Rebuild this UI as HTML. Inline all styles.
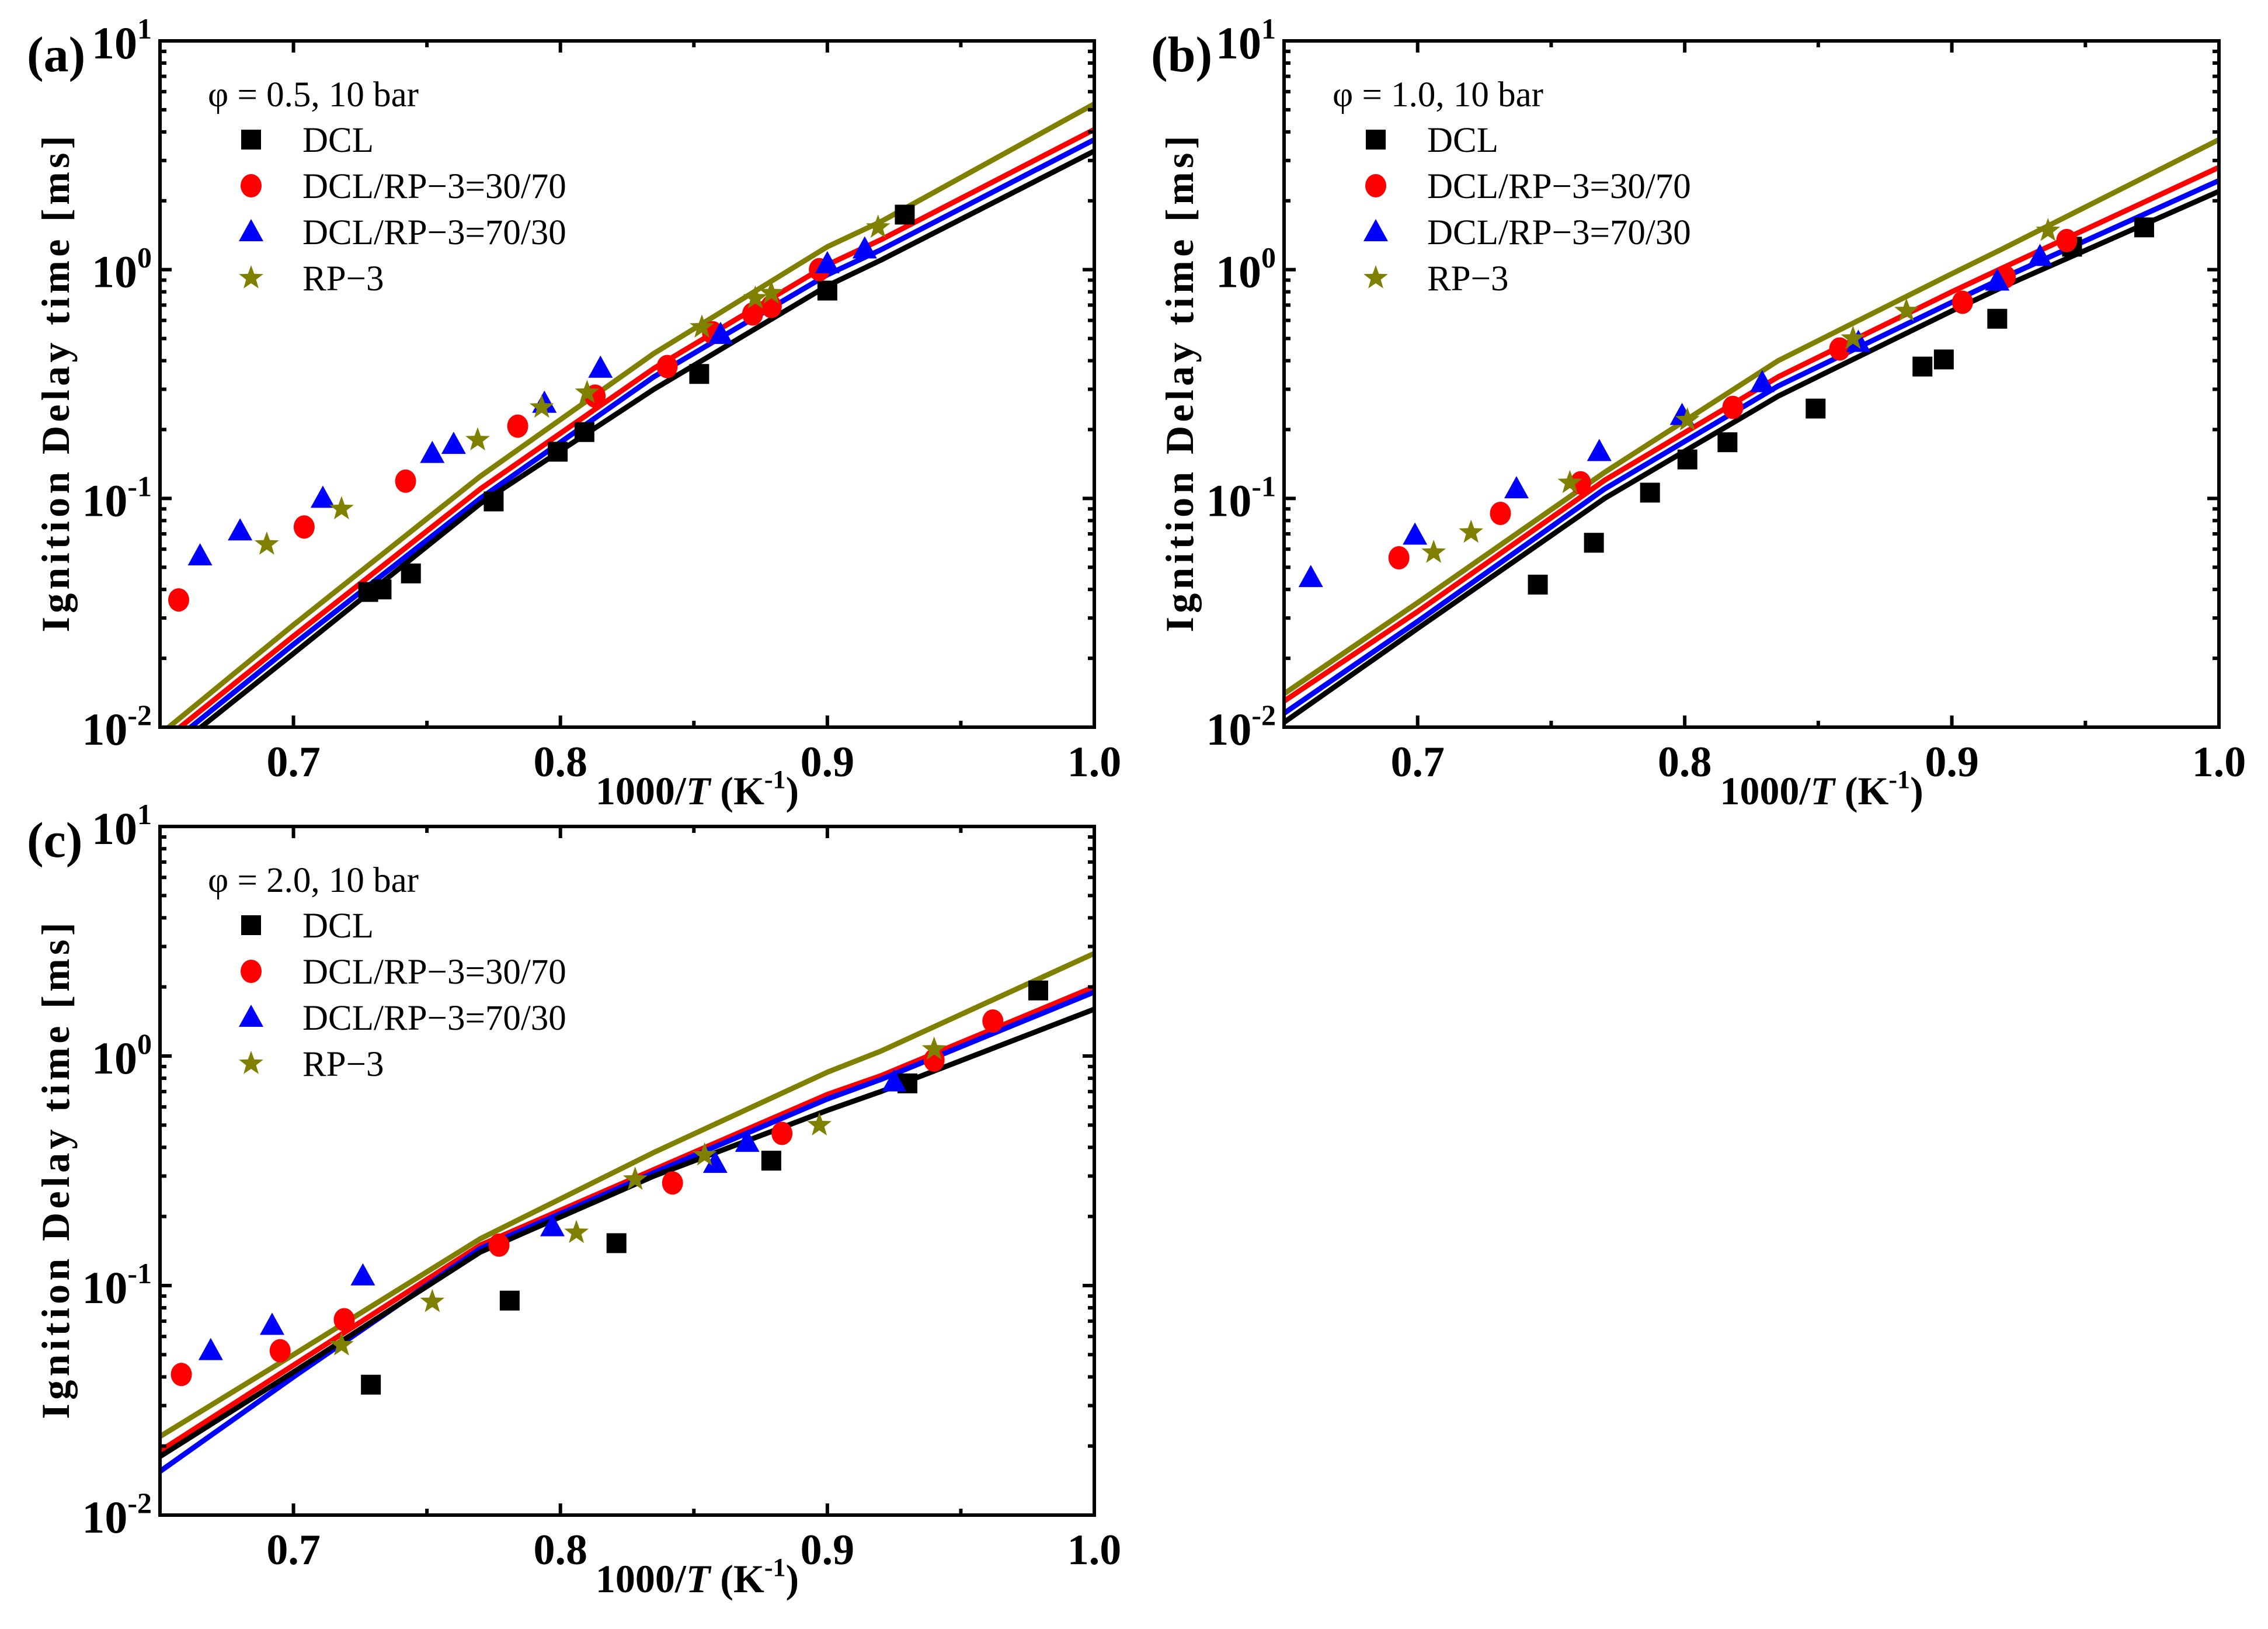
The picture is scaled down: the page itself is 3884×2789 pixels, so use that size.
<!DOCTYPE html>
<html><head><meta charset="utf-8">
<style>
html,body{margin:0;padding:0;background:#fff;}
svg{display:block;font-family:"Liberation Serif",serif;}
</style></head>
<body>
<svg id="fig" width="3884" height="2789" viewBox="0 0 3884 2789" xmlns="http://www.w3.org/2000/svg"></svg>
<script>
// ---------- data ----------
const lineX = [0.65,0.70,0.77,0.835,0.90,0.92,1.0];
const aOlive = [0.0093,0.028,0.125,0.43,1.26,1.62,5.3];
const aRed   = [0.0085,0.025,0.11,0.37,1.05,1.35,4.1];
const aBlue  = [0.0078,0.023,0.10,0.34,0.95,1.22,3.7];
const aBlack = [0.0072,0.021,0.095,0.30,0.85,1.10,3.3];
const bOlive = [0.014,0.035,0.13,0.40,0.96,1.25,3.7];
const bRed   = [0.013,0.032,0.12,0.34,0.80,1.03,2.8];
const bBlue  = [0.0115,0.029,0.11,0.31,0.72,0.93,2.45];
const bBlack = [0.0105,0.027,0.10,0.28,0.66,0.85,2.2];
const cOlive = [0.022,0.050,0.16,0.38,0.85,1.05,2.8];
const cRed   = [0.019,0.045,0.15,0.32,0.68,0.82,2.0];
const cBlue  = [0.0155,0.040,0.145,0.31,0.65,0.79,1.9];
const cBlack = [0.018,0.042,0.14,0.30,0.58,0.70,1.6];

const aDclX=[0.728,0.733,0.744,0.775,0.799,0.809,0.852,0.900,0.929];
const aDclY=[0.039,0.040,0.047,0.097,0.16,0.195,0.35,0.81,1.74];
const aM30X=[0.657,0.704,0.742,0.784,0.813,0.840,0.857,0.872,0.879,0.897];
const aM30Y=[0.036,0.075,0.119,0.207,0.28,0.377,0.53,0.64,0.69,1.0];
const aM70X=[0.665,0.680,0.711,0.752,0.760,0.794,0.815,0.860,0.900,0.914];
const aM70Y=[0.056,0.072,0.10,0.157,0.172,0.26,0.37,0.52,1.06,1.23];
const aRpX=[0.690,0.718,0.769,0.793,0.810,0.853,0.873,0.879,0.919];
const aRpY=[0.063,0.09,0.18,0.25,0.29,0.56,0.75,0.79,1.53];

const bDclX=[0.745,0.766,0.787,0.801,0.816,0.849,0.889,0.897,0.917,0.945,0.972];
const bDclY=[0.042,0.064,0.106,0.148,0.176,0.247,0.377,0.405,0.61,1.26,1.53];
const bM30X=[0.693,0.731,0.761,0.818,0.858,0.904,0.920,0.943];
const bM30Y=[0.055,0.086,0.117,0.25,0.45,0.72,0.93,1.34];
const bM70X=[0.660,0.699,0.737,0.768,0.799,0.829,0.865,0.917,0.933];
const bM70Y=[0.045,0.069,0.11,0.16,0.23,0.32,0.48,0.89,1.14];
const bRpX=[0.706,0.720,0.757,0.801,0.863,0.883,0.936];
const bRpY=[0.058,0.071,0.117,0.22,0.50,0.66,1.48];

const cDclX=[0.729,0.781,0.821,0.879,0.930,0.979];
const cDclY=[0.037,0.086,0.153,0.35,0.76,1.93];
const cM30X=[0.658,0.695,0.719,0.777,0.842,0.883,0.940,0.962];
const cM30Y=[0.041,0.052,0.071,0.15,0.28,0.46,0.96,1.42];
const cM70X=[0.669,0.692,0.726,0.797,0.858,0.870,0.925];
const cM70Y=[0.052,0.067,0.11,0.18,0.34,0.42,0.77];
const cRpX=[0.718,0.752,0.806,0.828,0.854,0.897,0.940];
const cRpY=[0.055,0.085,0.17,0.29,0.37,0.50,1.07];

const xTicks=[0.7,0.8,0.9,1.0];
const xTickLabels=["0.7","0.8","0.9","1.0"];
const xMinor=[0.65,0.75,0.85,0.95];
const yDecades=[-2,-1,0,1];
const legendLabels=["DCL","DCL/RP\u22123=30/70","DCL/RP\u22123=70/30","RP\u22123"];

// ---------- drawing ----------
const NS="http://www.w3.org/2000/svg";
const svg=document.getElementById('fig');
const OLIVE="#808000",RED="#ff0000",BLUE="#0000ff",BLACK="#000000";
function el(tag,attrs,parent){const e=document.createElementNS(NS,tag);for(const k in attrs)e.setAttribute(k,attrs[k]);(parent||svg).appendChild(e);return e;}

function marker(g,type,cx,cy,color){
  let m;
  if(type==='square'){m=el('rect',{x:cx-17,y:cy-17,width:34,height:34,fill:color},g);}
  else if(type==='circle'){m=el('ellipse',{cx:cx,cy:cy,rx:18,ry:20,fill:color},g);}
  else if(type==='tri'){m=el('polygon',{points:`${cx},${cy-22} ${cx+21},${cy+16} ${cx-21},${cy+16}`,fill:color},g);}
  else {let p=[];for(let i=0;i<10;i++){const r=i%2?9:22;const a=-Math.PI/2+i*Math.PI/5;p.push((cx+r*Math.cos(a)).toFixed(1)+','+(cy+r*Math.sin(a)).toFixed(1));}
    m=el('polygon',{points:p.join(' '),fill:color},g);}
  return m;
}

function panel(id,L,T,W,H,label,cond,lines,pts,legX){
  const R=L+W,B=T+H;
  const xs=v=>L+(v-0.65)/0.35*W;
  const ys=v=>T+(1-Math.log10(v))/3*H;
  const g=el('g',{});
  
  
  const cp=el('clipPath',{id:'clip'+id},g);
  el('rect',{x:L,y:T,width:W,height:H},cp);
  const lg=el('g',{'clip-path':`url(#clip${id})`},g);
  const lineNames=['rp3-model-line','mix-30-70-model-line','mix-70-30-model-line','dcl-model-line'];
  const lineColors=[OLIVE,RED,BLUE,BLACK];
  lines.forEach((arr,i)=>{
    const d=lineX.map((x,j)=>(j?'L':'M')+xs(x).toFixed(1)+' '+ys(arr[j]).toFixed(1)).join(' ');
    const p=el('path',{d:d,fill:'none',stroke:lineColors[i],'stroke-width':9,'stroke-linejoin':'round'},lg);
    
    
  });
  const types=['square','circle','tri','star'];
  const pcolors=[BLACK,RED,BLUE,OLIVE];
  const snames=['dcl-point','mix-30-70-point','mix-70-30-point','rp3-point'];
  pts.forEach((s,i)=>{
    s[0].forEach((x,j)=>{
      const m=marker(g,types[i],xs(x),ys(s[1][j]),pcolors[i]);
      
      
    });
  });
  const fr=el('rect',{x:L,y:T,width:W,height:H,fill:'none',stroke:'#000','stroke-width':6},g);
  
  
  xTicks.forEach((v,i)=>{
    const x=xs(v);
    el('line',{x1:x,y1:B,x2:x,y2:B-20,stroke:'#000','stroke-width':6},g);
    el('line',{x1:x,y1:T,x2:x,y2:T+20,stroke:'#000','stroke-width':6},g);
    const t=el('text',{x:x,y:B+84,'text-anchor':'middle','font-size':74,'font-weight':'bold'},g);
    t.textContent=xTickLabels[i];
    
    
  });
  xMinor.forEach(v=>{const x=xs(v);
    el('line',{x1:x,y1:B,x2:x,y2:B-11,stroke:'#000','stroke-width':6},g);
    el('line',{x1:x,y1:T,x2:x,y2:T+11,stroke:'#000','stroke-width':6},g);});
  yDecades.forEach(d=>{
    const y=ys(Math.pow(10,d));
    el('line',{x1:L,y1:y,x2:L+20,y2:y,stroke:'#000','stroke-width':6},g);
    el('line',{x1:R,y1:y,x2:R-20,y2:y,stroke:'#000','stroke-width':6},g);
    const t=el('text',{x:L-14,y:y+30,'text-anchor':'end','font-size':78,'font-weight':'bold'},g);
    
    
    const a=el('tspan',{},t);a.textContent='10';
    const b=el('tspan',{dy:-34,'font-size':50},t);b.textContent=String(d);
    if(d<1){for(let k=2;k<10;k++){const yy=ys(k*Math.pow(10,d));
      el('line',{x1:L,y1:yy,x2:L+11,y2:yy,stroke:'#000','stroke-width':6},g);
      el('line',{x1:R,y1:yy,x2:R-11,y2:yy,stroke:'#000','stroke-width':6},g);}}
  });
  const xt=el('text',{x:L+(W*0.575),y:B+132,'text-anchor':'middle','font-size':68,'font-weight':'bold'},g);
  
  
  let s1=el('tspan',{},xt);s1.textContent='1000/';
  let s2=el('tspan',{'font-style':'italic'},xt);s2.textContent='T';
  let s3=el('tspan',{},xt);s3.textContent=' (K';
  let s4=el('tspan',{dy:-28,'font-size':44},xt);s4.textContent='-1';
  let s5=el('tspan',{dy:28},xt);s5.textContent=')';
  const yt=el('text',{x:0,y:0,'text-anchor':'middle','font-size':68,'font-weight':'bold',textLength:850,lengthAdjust:'spacing',transform:`translate(${L-156},${T+H/2}) rotate(-90)`},g);
  yt.textContent='Ignition Delay time [ms]';
  
  
  const pl=el('text',{x:L-228,y:T+52,'font-size':86,'font-weight':'bold'},g);
  pl.textContent=label;
  
  
  const cy0=T+91;
  const ct=el('text',{x:legX-74,y:cy0+21,'font-size':61},g);
  ct.textContent=cond;
  
  
  legendLabels.forEach((lab,i)=>{
    const y=cy0+78+i*79;
    const m=marker(g,types[i],legX,y,pcolors[i]);
    
    
    const t=el('text',{x:legX+88,y:y+21,'font-size':61},g);
    t.textContent=lab;
    
    
  });
}

panel('a',274,70,1600,1175,'(a)','\u03c6 = 0.5, 10 bar',[aOlive,aRed,aBlue,aBlack],
  [[aDclX,aDclY],[aM30X,aM30Y],[aM70X,aM70Y],[aRpX,aRpY]],430);
panel('b',2199,70,1601,1175,'(b)','\u03c6 = 1.0, 10 bar',[bOlive,bRed,bBlue,bBlack],
  [[bDclX,bDclY],[bM30X,bM30Y],[bM70X,bM70Y],[bRpX,bRpY]],2356);
panel('c',274,1415,1600,1179,'(c)','\u03c6 = 2.0, 10 bar',[cOlive,cRed,cBlue,cBlack],
  [[cDclX,cDclY],[cM30X,cM30Y],[cM70X,cM70Y],[cRpX,cRpY]],430);
</script>
</body></html>
